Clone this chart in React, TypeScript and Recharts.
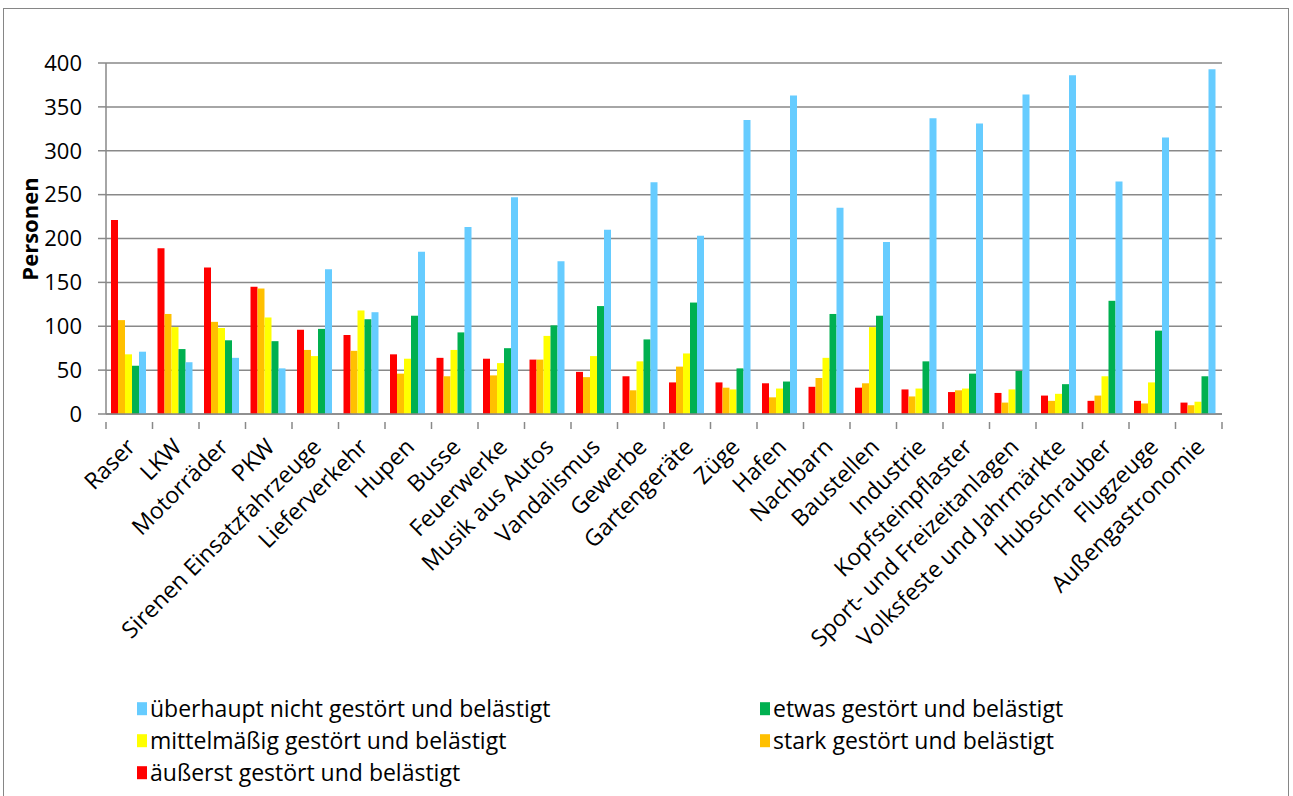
import React from "react";
import { Bar, BarChart, CartesianGrid, XAxis, YAxis } from "recharts";

const categories = [
  "Raser", "LKW", "Motorräder", "PKW", "Sirenen Einsatzfahrzeuge", "Lieferverkehr",
  "Hupen", "Busse", "Feuerwerke", "Musik aus Autos", "Vandalismus", "Gewerbe",
  "Gartengeräte", "Züge", "Hafen", "Nachbarn", "Baustellen", "Industrie",
  "Kopfsteinpflaster", "Sport- und Freizeitanlagen", "Volksfeste und Jahrmärkte",
  "Hubschrauber", "Flugzeuge", "Außengastronomie",
];

const aeusserst = [221, 189, 167, 145, 96, 90, 68, 64, 63, 62, 48, 43, 36, 36, 35, 31, 30, 28, 25, 24, 21, 15, 15, 13];
const stark = [107, 114, 105, 143, 73, 72, 46, 43, 44, 62, 42, 27, 54, 30, 19, 41, 35, 20, 27, 13, 15, 21, 12, 10];
const mittel = [68, 99, 98, 110, 66, 118, 63, 73, 58, 89, 66, 60, 69, 28, 29, 64, 99, 29, 29, 28, 23, 43, 36, 14];
const etwas = [55, 74, 84, 83, 97, 108, 112, 93, 75, 101, 123, 85, 127, 52, 37, 114, 112, 60, 46, 49, 34, 129, 95, 43];
const ueberhaupt = [71, 59, 64, 52, 165, 116, 185, 213, 247, 174, 210, 264, 203, 335, 363, 235, 196, 337, 331, 364, 386, 265, 315, 393];

const yTicks = [0, 50, 100, 150, 200, 250, 300, 350, 400];

const series = [
  { key: "aeusserst", name: "äußerst gestört und belästigt", color: "#ff0000" },
  { key: "stark", name: "stark gestört und belästigt", color: "#ffc000" },
  { key: "mittel", name: "mittelmäßig gestört und belästigt", color: "#ffff00" },
  { key: "etwas", name: "etwas gestört und belästigt", color: "#00b050" },
  { key: "ueberhaupt", name: "überhaupt nicht gestört und belästigt", color: "#66ccff" },
];

const data = categories.map((name, i) => ({
  name,
  aeusserst: aeusserst[i],
  stark: stark[i],
  mittel: mittel[i],
  etwas: etwas[i],
  ueberhaupt: ueberhaupt[i],
}));

const FONT = "'Open Sans', sans-serif";
const GRID = "#898989";
const PLOT_LEFT = 106;
const PLOT_RIGHT = 1222;
const STEP = (PLOT_RIGHT - PLOT_LEFT) / categories.length;

function CategoryTick(props: any) {
  const { x, y, payload, index } = props;
  const tx = x + 1;
  const ty = y + 20;
  return (
    <g>
      <line x1={x - STEP / 2} x2={x - STEP / 2} y1={y} y2={y + 7} stroke={GRID} strokeWidth={1.5} />
      {index === categories.length - 1 && (
        <line x1={x + STEP / 2} x2={x + STEP / 2} y1={y} y2={y + 7} stroke={GRID} strokeWidth={1.5} />
      )}
      <text
        x={tx}
        y={ty}
        transform={`rotate(-45, ${tx}, ${ty})`}
        textAnchor="end"
        dominantBaseline="central"
        fontFamily={FONT}
        fontSize={23}
        fill="#000"
      >
        {payload.value}
      </text>
    </g>
  );
}

const legendRows = [
  [series[4], series[3]],
  [series[2], series[1]],
  [series[0]],
];

export default function App() {
  return (
    <div style={{ position: "absolute", left: 0, top: 0, width: 1293, height: 796, background: "#fff", overflow: "hidden" }}>
      <div
        style={{
          position: "absolute",
          left: 3,
          top: 8,
          width: 1286,
          height: 800,
          border: "1px solid #868686",
          boxSizing: "border-box",
        }}
      />
      <div style={{ position: "absolute", left: 0, top: 0 }}>
        <BarChart
          width={1293}
          height={796}
          data={data}
          margin={{ top: 63, right: 1293 - PLOT_RIGHT, left: PLOT_LEFT - 70, bottom: 0 }}
          barCategoryGap={5}
          barGap={0}
        >
          <CartesianGrid vertical={false} stroke={GRID} strokeWidth={1.5} />
          <XAxis
            dataKey="name"
            interval={0}
            height={382}
            tickLine={false}
            axisLine={{ stroke: GRID, strokeWidth: 1.5 }}
            tick={<CategoryTick />}
          />
          <YAxis
            width={70}
            domain={[0, 400]}
            ticks={yTicks}
            interval={0}
            tickSize={8}
            tickMargin={16}
            tickLine={{ stroke: GRID, strokeWidth: 1.5 }}
            axisLine={{ stroke: GRID, strokeWidth: 1.5 }}
            tick={{ fontFamily: FONT, fontSize: 22, fill: "#000" }}
          />
          {series.map((s) => (
            <Bar key={s.key} dataKey={s.key} name={s.name} fill={s.color} isAnimationActive={false} />
          ))}
        </BarChart>
      </div>
      <div
        style={{
          position: "absolute",
          left: 29,
          top: 229,
          transform: "translate(-50%, -50%) rotate(-90deg)",
          fontFamily: FONT,
          fontWeight: 700,
          fontSize: 22,
          lineHeight: 1,
          whiteSpace: "nowrap",
          color: "#000",
        }}
      >
        Personen
      </div>
      {legendRows.map((row, r) =>
        row.map((s, c) => (
          <div
            key={s.key}
            style={{
              position: "absolute",
              left: c === 0 ? 137 : 760,
              top: 709 + r * 32,
              transform: "translateY(-50%)",
              display: "flex",
              alignItems: "center",
              fontFamily: FONT,
              fontSize: 23,
              lineHeight: 1.2,
              color: "#000",
              whiteSpace: "nowrap",
            }}
          >
            <span style={{ display: "inline-block", width: 10, height: 13, background: s.color, marginRight: 3 }} />
            {s.name}
          </div>
        ))
      )}
    </div>
  );
}
